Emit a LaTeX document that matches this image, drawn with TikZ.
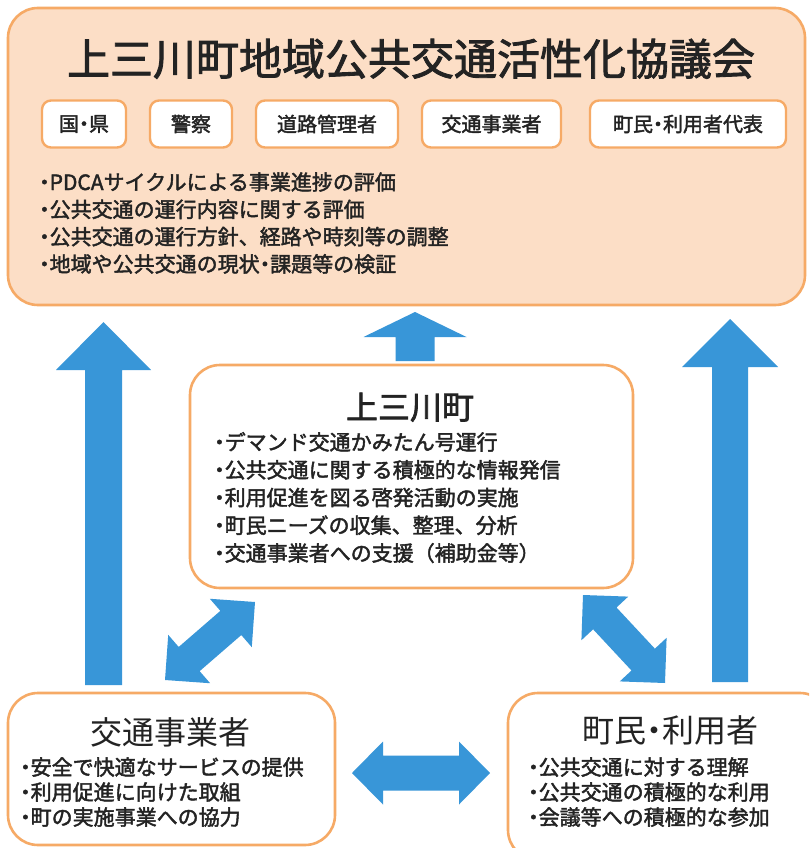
\documentclass[tikz,border=0pt]{standalone}
\usepackage{fontspec}
\setmainfont{Noto Sans CJK JP}[FakeBold=2]
\newfontfamily\thinjp{Noto Sans CJK JP}
\usetikzlibrary{calc}
\definecolor{peach}{RGB}{252,222,198}
\definecolor{orng}{RGB}{246,170,102}
\definecolor{arrblue}{RGB}{56,150,216}
\definecolor{inkc}{RGB}{35,35,35}
\newcommand{\nd}{{\addfontfeature{RawFeature=+halt}・}}
% single block arrow: tail, tip, half shaft, half head, head length
\newcommand{\blockup}[5]{%
  \path coordinate (hb) at ($(#2)!#5!(#1)$);
  \fill[arrblue] ($(#1)!#3!90:(#2)$) -- ($(hb)!#3!90:(#2)$) -- ($(hb)!#4!90:(#2)$) -- (#2)
    -- ($(hb)!#4!-90:(#2)$) -- ($(hb)!#3!-90:(#2)$) -- ($(#1)!#3!-90:(#2)$) -- cycle;}
% double block arrow: end A, end B, half shaft, half head, head length
\newcommand{\blockboth}[5]{%
  \path coordinate (ha) at ($(#1)!#5!(#2)$) coordinate (hb) at ($(#2)!#5!(#1)$);
  \fill[arrblue] (#1) -- ($(ha)!#4!90:(#2)$) -- ($(ha)!#3!90:(#2)$) -- ($(hb)!#3!90:(#2)$)
    -- ($(hb)!#4!90:(#2)$) -- (#2) -- ($(hb)!#4!-90:(#2)$) -- ($(hb)!#3!-90:(#2)$)
    -- ($(ha)!#3!-90:(#2)$) -- ($(ha)!#4!-90:(#2)$) -- cycle;}
\begin{document}
\begin{tikzpicture}[x=1pt,y=-1pt,
  bigbox/.style={draw=orng, line width=2.6pt, rounded corners=30pt, inner sep=0pt},
  smallbox/.style={draw=orng, fill=white, line width=2.4pt, rounded corners=9pt, inner sep=0pt,
    minimum height=47pt, font=\fontsize{20}{24}\selectfont, text=inkc},
  bullet/.style={anchor=base west, inner sep=0pt, font=\fontsize{21}{25}\selectfont, text=inkc},
  title/.style={anchor=base, inner sep=0pt, text=inkc}]
\useasboundingbox (0,0) rectangle (809,848);
\clip (0,0) rectangle (809,848);
\fill[white] (0,0) rectangle (809,848);

% boxes
\node[bigbox, fill=peach, minimum width=797pt, minimum height=297pt] (council) at (406.5,156.5) {};
\node[bigbox, fill=white, minimum width=443pt, minimum height=223pt] (town) at (411.5,476.5) {};
\node[bigbox, fill=white, minimum width=327pt, minimum height=152pt] (oper) at (171.5,769) {};
\node[bigbox, fill=white, minimum width=322pt, minimum height=167pt] (resid) at (669,776.5) {};

% member boxes
\node[smallbox, minimum width=84pt] (m1) at (84,124) {国\nd 県};
\node[smallbox, minimum width=82pt] (m2) at (191,124) {警察};
\node[smallbox, minimum width=142pt] (m3) at (327,124) {道路管理者};
\node[smallbox, minimum width=139pt] (m4) at (491.5,124) {交通事業者};
\node[smallbox, minimum width=196pt] (m5) at (688,124) {町民\nd 利用者代表};

% titles
\node[title, font=\fontsize{43}{48}\selectfont] (t0) at (411,75) {上三川町地域公共交通活性化協議会};
\node[title, font=\fontsize{32}{38}\selectfont] (t1) at (410,419) {上三川町};
\node[title, font=\thinjp\fontsize{32}{38}\selectfont] (t2) at (170,744) {交通事業者};
\node[title, font=\thinjp\fontsize{32}{38}\selectfont] (t3) at (670,742) {町民{\addfontfeature{RawFeature=+halt}・}利用者};

% bullet lists
\foreach \t [count=\i] in {\nd PDCAサイクルによる事業進捗の評価,
  \nd 公共交通の運行内容に関する評価,
  \nd 公共交通の運行方針、経路や時刻等の調整,
  \nd 地域や公共交通の現状\nd 課題等の検証}
  \node[bullet] (c\i) at (39,{190+(\i-1)*27.3}) {\t};
\foreach \t [count=\i] in {\nd デマンド交通かみたん号運行,
  \nd 公共交通に関する積極的な情報発信,
  \nd 利用促進を図る啓発活動の実施,
  \nd 町民ニーズの収集、整理、分析,
  \nd 交通事業者への支援（補助金等）}
  \node[bullet] (u\i) at (214,{450+(\i-1)*27.75}) {\t};
\foreach \t [count=\i] in {\nd 安全で快適なサービスの提供,
  \nd 利用促進に向けた取組,
  \nd 町の実施事業への協力}
  \node[bullet] (o\i) at (20,{775+(\i-1)*25}) {\t};
\foreach \t [count=\i] in {\nd 公共交通に対する理解,
  \nd 公共交通の積極的な利用,
  \nd 会議等への積極的な参加}
  \node[bullet] (r\i) at (528,{775+(\i-1)*25}) {\t};

% connector end points
\coordinate (la) at (103.5,685);
\coordinate (lb) at (103.5,322);
\coordinate (ra) at (730,682);
\coordinate (rb) at (730,319);
\coordinate (ma) at (415,361);
\coordinate (mb) at (415,312);
\coordinate (da) at (165,680);
\coordinate (db) at (255,602);
\coordinate (ea) at (583,595);
\coordinate (eb) at (665,683);
\coordinate (ha1) at (352,773);
\coordinate (hb1) at (490,773);

% arrows
\blockup{la}{lb}{18.5pt}{47.5pt}{48pt}
\blockup{ra}{rb}{18pt}{48pt}{48pt}
\blockup{ma}{mb}{19.5pt}{51.5pt}{25pt}
\blockboth{da}{db}{16pt}{32pt}{32pt}
\blockboth{ea}{eb}{16pt}{32pt}{32pt}
\blockboth{ha1}{hb1}{17.5pt}{31.5pt}{31pt}
\end{tikzpicture}
\end{document}
